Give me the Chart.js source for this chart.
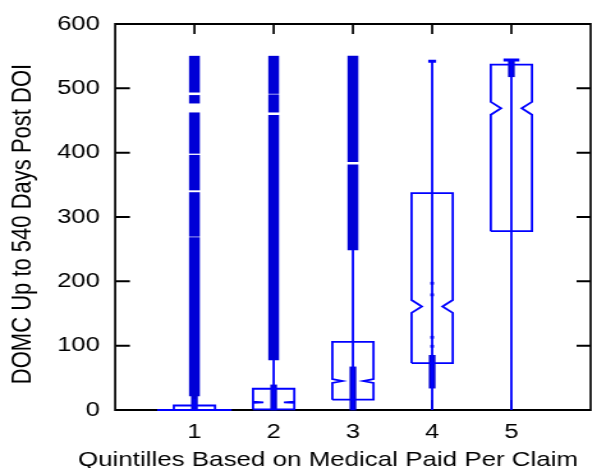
<!DOCTYPE html>
<html><head><meta charset="utf-8">
<script src="https://cdn.jsdelivr.net/npm/chart.js@4.4.0/dist/chart.umd.min.js"></script>
<style>
html,body{margin:0;padding:0;background:#fff;overflow:hidden;width:592px;height:468px;}
#wrap{position:absolute;left:0;top:0;width:466px;height:468px;transform:scaleX(1.2784);transform-origin:0 0;}
canvas{display:block;}
</style></head><body>
<div id="wrap"><canvas id="c" width="466" height="468"></canvas></div>
<script>
// ---- data ----
const categories = [1, 2, 3, 4, 5];
const xTickValues = [0, 1, 2, 3, 4, 5, 6];
const yTickValues = [0, 100, 200, 300, 400, 500, 600];
const lowerQuartile = [0, 1, 16, 73, 278];
const medianValues = [0, 12, 45, 161, 469];
const upperQuartile = [7, 33, 106, 337, 537];
const notchLow = [0, 11, 42, 151, 459];
const notchHigh = [0, 13, 48, 171, 479];
const whiskerLow = [0, 0, 0, 0, 0];
const whiskerHigh = [17, 78, 249, 542, 544];
const outlierRanges = [
  [[22, 268], [270, 338], [342, 396], [399, 462], [477, 489], [494, 550]],
  [[78, 458], [463, 490], [492, 550]],
  [[249, 381], [386, 550]],
  [],
  []
];
const denseRanges = [[0, 22], [0, 39], [0, 67], [34, 85], [518, 544]];
const scatteredPoints = [[], [], [], [197, 179, 113, 99], []];
const xLabel = 'Quintilles Based on Medical Paid Per Claim';
const yLabel = 'DOMC Up to 540 Days Post DOI';

// ---- styles ----
const BLUE = '#0000ff';
const COLUMN_BLUE = '#0000d6';
const BOX_HALF = 0.26;
const LOWER_CAP_HALF = [0.47, 0, 0, 0, 0];
const UPPER_CAP_HALF = [0, 0, 0, 0.05, 0.1];
const FONT = '"Liberation Sans", Arial, sans-serif';

// ---- build datasets ----
const datasets = [];
const lineBase = {type: 'line', borderColor: BLUE, borderWidth: 1.8, pointRadius: 0, fill: false, tension: 0, spanGaps: false, clip: false};

categories.forEach((c, i) => {
  const L = c - BOX_HALF, R = c + BOX_HALF, Ln = c - BOX_HALF / 2, Rn = c + BOX_HALF / 2;
  datasets.push(Object.assign({}, lineBase, {
    label: 'box ' + c,
    data: [
      {x: L, y: lowerQuartile[i]}, {x: L, y: notchLow[i]}, {x: Ln, y: medianValues[i]},
      {x: L, y: notchHigh[i]}, {x: L, y: upperQuartile[i]}, {x: R, y: upperQuartile[i]},
      {x: R, y: notchHigh[i]}, {x: Rn, y: medianValues[i]}, {x: R, y: notchLow[i]},
      {x: R, y: lowerQuartile[i]}, {x: L, y: lowerQuartile[i]}
    ]
  }));
});

const whiskerData = [];
categories.forEach((c, i) => {
  whiskerData.push({x: c, y: whiskerLow[i]}, {x: c, y: whiskerHigh[i]}, {x: c, y: null});
});
datasets.push(Object.assign({}, lineBase, {label: 'whiskers', data: whiskerData}));

const lowerCaps = [], upperCaps = [];
categories.forEach((c, i) => {
  if (LOWER_CAP_HALF[i] > 0) lowerCaps.push({x: c - LOWER_CAP_HALF[i], y: whiskerLow[i]}, {x: c + LOWER_CAP_HALF[i], y: whiskerLow[i]}, {x: c, y: null});
  if (UPPER_CAP_HALF[i] > 0) upperCaps.push({x: c - UPPER_CAP_HALF[i], y: whiskerHigh[i]}, {x: c + UPPER_CAP_HALF[i], y: whiskerHigh[i]}, {x: c, y: null});
});
datasets.push(Object.assign({}, lineBase, {label: 'lower caps', data: lowerCaps}));
datasets.push(Object.assign({}, lineBase, {label: 'upper caps', data: upperCaps, borderWidth: 3}));

const outlierData = [];
categories.forEach((c, i) => outlierRanges[i].forEach(r => outlierData.push({x: c, y: r})));
datasets.push({type: 'bar', label: 'outliers', data: outlierData, backgroundColor: COLUMN_BLUE, borderWidth: 0, barThickness: 7.8, grouped: false, clip: false});

const denseData = categories.map((c, i) => ({x: c, y: denseRanges[i]}));
datasets.push({type: 'bar', label: 'dense points', data: denseData, backgroundColor: COLUMN_BLUE, borderWidth: 0, barThickness: 4.6, grouped: false, clip: false});

const pointData = [];
categories.forEach((c, i) => scatteredPoints[i].forEach(v => pointData.push({x: c, y: v})));
datasets.push({type: 'scatter', label: 'points', data: pointData, pointStyle: 'rect', pointRadius: 2, backgroundColor: COLUMN_BLUE, borderWidth: 0, clip: false});

// ---- frame, inward ticks, axis titles ----
const framePlugin = {
  id: 'frame',
  beforeDatasetsDraw(chart) {
    const {ctx, chartArea: a, scales: {x, y}} = chart;
    ctx.save();
    ctx.strokeStyle = '#000';
    ctx.lineCap = 'butt';
    ctx.lineWidth = 2;
    ctx.beginPath();
    ctx.moveTo(a.left, a.top); ctx.lineTo(a.right, a.top);
    ctx.moveTo(a.left, a.bottom); ctx.lineTo(a.right, a.bottom);
    yTickValues.forEach(v => {
      if (v === 0 || v === 600) return;
      const py = y.getPixelForValue(v);
      ctx.moveTo(a.left, py); ctx.lineTo(a.left + 11.5, py);
      ctx.moveTo(a.right - 11, py); ctx.lineTo(a.right, py);
    });
    ctx.stroke();
    ctx.lineWidth = 1.7;
    ctx.beginPath();
    ctx.moveTo(a.left, a.top - 1); ctx.lineTo(a.left, a.bottom + 1);
    ctx.moveTo(a.right, a.top - 1); ctx.lineTo(a.right, a.bottom + 1);
    categories.forEach(c => {
      const px = x.getPixelForValue(c);
      ctx.moveTo(px, a.top); ctx.lineTo(px, a.top + 10);
      ctx.moveTo(px, a.bottom); ctx.lineTo(px, a.bottom - 10);
    });
    ctx.stroke();
    ctx.restore();
  },
  afterDraw(chart) {
    const {ctx, chartArea: a} = chart;
    ctx.save();
    ctx.fillStyle = '#000';
    ctx.textAlign = 'center';
    ctx.textBaseline = 'middle';
    ctx.font = '20.3px ' + FONT;
    ctx.fillText(xLabel, a.left + 166.5, a.bottom + 50);
    ctx.translate(a.left - 72, (a.top + a.bottom) / 2 + 7);
    ctx.rotate(-Math.PI / 2);
    ctx.font = '22px ' + FONT;
    ctx.fillText(yLabel, 0, 0);
    ctx.restore();
  }
};

new Chart(document.getElementById('c'), {
  type: 'bar',
  data: {datasets},
  options: {
    responsive: false,
    animation: false,
    events: [],
    layout: {padding: {left: 0, top: 24, right: 1.6, bottom: 0}},
    plugins: {legend: {display: false}, tooltip: {enabled: false}, title: {display: false}},
    scales: {
      x: {
        type: 'linear', min: 0, max: 6, offset: false,
        afterBuildTicks: s => { s.ticks = xTickValues.map(v => ({value: v})); },
        afterFit: s => { s.height = 58; s.paddingLeft = 0; s.paddingRight = 0; },
        grid: {display: false, drawTicks: false},
        border: {display: false},
        ticks: {
          color: '#000', padding: 10.5, maxRotation: 0, autoSkip: false,
          font: {family: FONT, size: 20, lineHeight: 1.2},
          callback: v => categories.includes(v) ? String(v) : ''
        }
      },
      y: {
        type: 'linear', min: 0, max: 600,
        afterBuildTicks: s => { s.ticks = yTickValues.map(v => ({value: v})); },
        afterFit: s => { s.width = 90.1; s.paddingTop = 0; s.paddingBottom = 0; },
        grid: {display: false, drawTicks: false},
        border: {display: false},
        ticks: {
          color: '#000', padding: 12,
          font: {family: FONT, size: 20, lineHeight: 1.2},
          callback: v => String(v)
        }
      }
    }
  },
  plugins: [framePlugin]
});
</script>
</body></html>
